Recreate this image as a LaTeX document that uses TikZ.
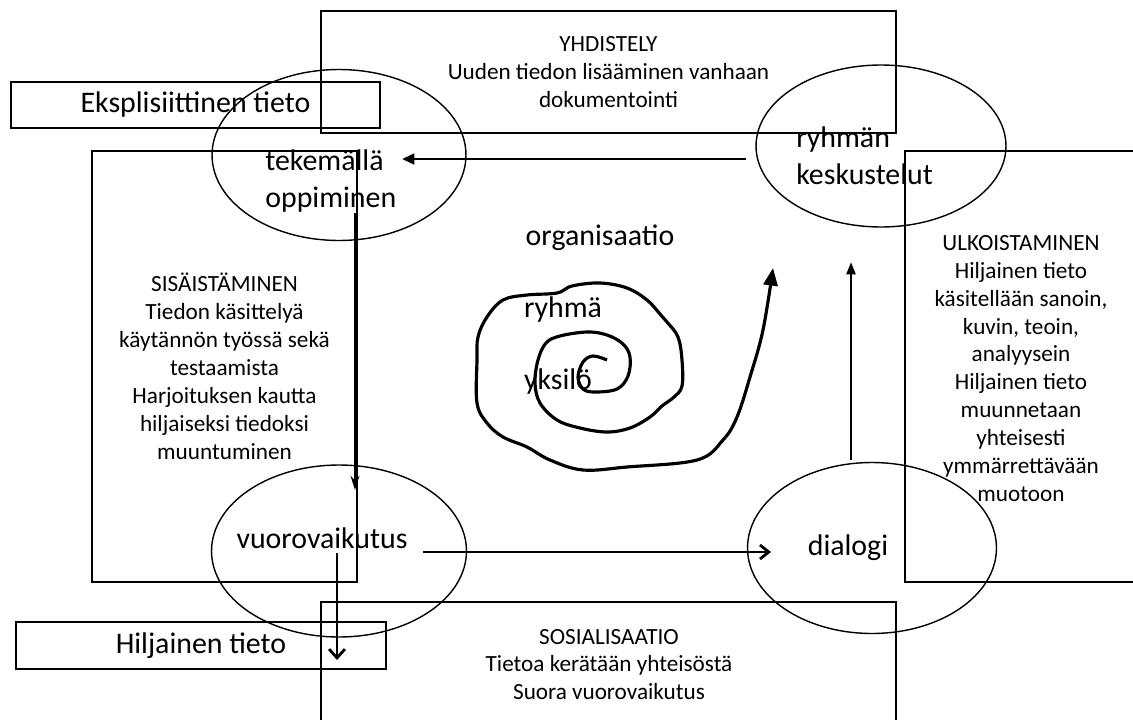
\documentclass[tikz,border=0pt]{standalone}
\usepackage{fontspec}
\setmainfont{Carlito}
\usetikzlibrary{shapes.geometric,arrows.meta}

\begin{document}
\begin{tikzpicture}[x = 0.02cm, y = -0.02cm]
\tikzstyle{boxStyle} = [draw, line width = 0.8pt]
\tikzstyle{ovalStyle} = [shape = ellipse, draw, line width = 0.8pt, inner sep = 0pt]
\tikzstyle{smallStyle} = [align = center, inner sep = 0pt, font = \fontsize{13.2}{15.9}\selectfont]
\tikzstyle{bigStyle} = [inner sep = 0pt, font = \fontsize{17}{21}\selectfont]
\tikzstyle{arrowStyle} = [line width = 1.6pt]
\useasboundingbox (0,0) rectangle (1133,720);
% the four corners
\node[boxStyle, smallStyle, minimum width = 11.5cm, minimum height = 2.44cm] (s0) at (608.5,72) {YHDISTELY\\Uuden tiedon lisääminen vanhaan\\dokumentointi};
\node[boxStyle, smallStyle, minimum width = 5.3cm, minimum height = 8.62cm] (s1) at (224.5,366.5) {SISÄISTÄMINEN\\Tiedon käsittelyä\\käytännön työssä sekä\\testaamista\\Harjoituksen kautta\\hiljaiseksi tiedoksi\\muuntuminen};
\draw[boxStyle] (1133,151) -- (905,151) -- (905,582) -- (1133,582);
\node[smallStyle] (s2) at (1021,368.5) {ULKOISTAMINEN\\Hiljainen tieto\\käsitellään sanoin,\\kuvin, teoin,\\analyysein\\Hiljainen tieto\\muunnetaan\\yhteisesti\\ymmärrettävään\\muotoon};
\draw[boxStyle] (321,720) -- (321,602) -- (896,602) -- (896,720);
\node[smallStyle] (s3) at (609,664.5) {SOSIALISAATIO\\Tietoa kerätään yhteisöstä\\Suora vuorovaikutus};
% tags
\node[boxStyle, bigStyle, minimum width = 7.38cm, minimum height = 0.92cm] (k0) at (195.5,105) {Eksplisiittinen tieto};
\node[boxStyle, bigStyle, minimum width = 7.4cm, minimum height = 0.94cm] (k1) at (201,645.5) {Hiljainen tieto};
% ovals
\node[ovalStyle, minimum width = 5.08cm, minimum height = 3.42cm] (o0) at (339,155) {};
\node[ovalStyle, minimum width = 5.0cm, minimum height = 3.24cm] (o1) at (881,146) {};
\node[ovalStyle, minimum width = 5.1cm, minimum height = 3.44cm] (o2) at (339,551) {};
\node[ovalStyle, minimum width = 4.98cm, minimum height = 3.42cm] (o3) at (872,548) {};
\node[bigStyle, align = left, anchor = west] (v0) at (265,181) {tekemällä\\oppiminen};
\node[bigStyle, align = left, anchor = west] (v1) at (796,156) {ryhmän\\keskustelut};
\node[bigStyle] (v2) at (322,538) {vuorovaikutus};
\node[bigStyle] (v3) at (848,548) {dialogi};
\node[bigStyle] (v4) at (600,238) {organisaatio};
\node[bigStyle] (v5) at (563,310) {ryhmä};
\node[bigStyle] (v6) at (558,382) {yksilö};
% arrow ends
\coordinate (a0) at (746,159);
\coordinate (a1) at (402,159);
\coordinate (a2) at (355,213);
\coordinate (a3) at (355,490);
\coordinate (a4) at (423,552);
\coordinate (a5) at (771,552);
\coordinate (a6) at (337,553);
\coordinate (a7) at (337,660);
\coordinate (a8) at (851,460);
\coordinate (a9) at (851,262);
\path [arrowStyle]
(a0) edge [-{Triangle[length = 7pt, width = 6pt]}] (a1)
(a2) edge [-{Stealth[length = 8pt, width = 5pt]}] (a3)
(a4) edge [-{Straight Barb[length = 5pt, width = 8pt]}] (a5)
(a6) edge [-{Straight Barb[length = 5pt, width = 9pt]}] (a7)
(a8) edge [-{Triangle[length = 7pt, width = 5pt]}] (a9);
% spiral
\draw[line width = 1.8pt, line join = round, -{Triangle[length = 10pt, width = 8pt]}]
plot[smooth, tension = 0.6] coordinates {(607,360) (593,356) (583,362) (578,377) (583,389) (595,392) (617,389) (628,376) (630,357) (623,344) (607,335) (587,332) (560,336) (546,343) (538,360) (535,383) (540,403) (557,420) (580,428) (607,432) (630,428) (650,417) (662,406) (674,397) (682,386) (682,360) (678,337) (667,322) (660,314) (647,300) (627,288) (600,283) (572,286) (557,293) (527,295) (503,300) (487,317) (478,337) (477,360) (477,403) (487,423) (503,437) (527,447) (550,460) (583,470) (627,467) (697,460) (723,440) (737,417) (750,377) (763,330) (773,268)};
\end{tikzpicture}
\end{document}
